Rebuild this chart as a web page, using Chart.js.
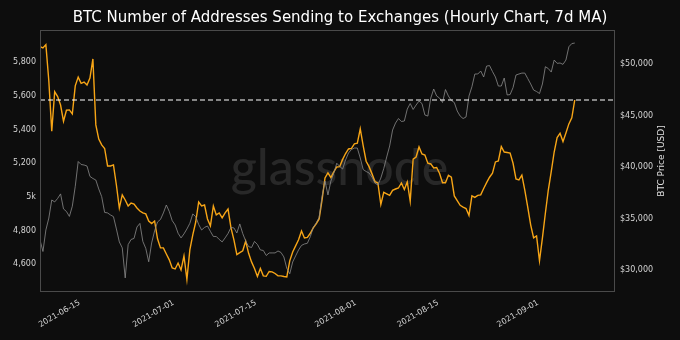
<!DOCTYPE html>
<html><head><meta charset="utf-8">
<script src="https://cdn.jsdelivr.net/npm/chart.js@4/dist/chart.umd.min.js"></script>
<style>html,body{margin:0;padding:0;background:#0d0d0d;overflow:hidden}#wrap{width:680px;height:340px}</style>
</head><body><div id="wrap"><canvas id="c" width="680" height="340"></canvas></div>
<script>
const TITLE = 'BTC Number of Addresses Sending to Exchanges (Hourly Chart, 7d MA)';
const RIGHT_TITLE = 'BTC Price [USD]';
const WATERMARK = 'glassnode';
// time axis: days relative to 2021-06-15, one reading every 12 hours
const START_DAY = -6.75;
const STEP_DAYS = 0.5;
const X_END_DAY = 91.1;

const addresses = [
5893,5885,5905,5690,5390,5625,5596,5546,5450,5515,
5517,5493,5660,5712,5675,5683,5665,5706,5820,5428,
5344,5309,5288,5184,5184,5190,5071,4934,5012,4982,
4946,4964,4958,4934,4916,4905,4899,4857,4842,4857,
4751,4697,4697,4661,4626,4578,4572,4607,4566,4649,
4510,4685,4774,4851,4970,4946,4952,4869,4828,4946,
4893,4905,4875,4905,4928,4816,4745,4657,4669,4680,
4737,4665,4614,4575,4527,4575,4531,4528,4557,4555,
4545,4531,4531,4527,4525,4620,4673,4709,4745,4798,
4756,4760,4784,4816,4840,4869,4982,5113,5143,5115,
5149,5178,5180,5223,5258,5285,5288,5315,5319,5405,
5303,5212,5180,5137,5091,5083,4955,5027,5018,5009,
5039,5047,5053,5083,5044,5089,4975,5225,5237,5297,
5255,5249,5200,5196,5172,5175,5139,5084,5084,5129,
5117,5006,4978,4950,4940,4931,4890,5006,4997,5009,
5012,5050,5085,5117,5141,5208,5214,5299,5267,5264,
5261,5200,5107,5101,5129,5041,4940,4834,4757,4768,
4620,4757,4903,5041,5151,5267,5353,5378,5329,5380,
5434,5470,5576];

const price = [
32922,31800,33894,35050,36810,36620,36960,37400,35940,35690,
35210,36200,38140,40550,40260,40210,40110,39100,38900,38750,
37880,37130,35600,35550,35350,35190,33990,32730,32150,29230,
32470,32970,33070,34180,34530,32780,32100,30800,32630,33800,
34670,34910,35550,36320,35690,34800,34380,33570,33120,33510,
33990,34540,35450,35190,34430,33890,34140,34280,33750,33260,
33260,32970,32730,33120,33550,34140,34090,33600,34480,33550,
32820,32270,32190,32780,32480,31950,31900,31410,31660,31660,
31660,31850,31710,31270,30160,29630,30780,31370,31950,32390,
32530,32600,33240,34140,34580,35110,37180,38650,37300,38650,
39430,40380,40070,39820,40700,41380,41720,41860,41860,40890,
39770,39580,39430,39040,38460,38270,38940,39870,40990,42060,
43610,44290,44730,44440,44490,45650,46190,45610,46040,46430,
46190,45070,44970,46720,47600,46920,46720,46290,47550,46920,
46480,46290,45460,44970,44730,44880,46920,47820,49060,49060,
49350,48770,49830,49880,49300,48770,47890,47890,48670,47020,
47060,47740,48960,49060,49150,49150,48620,48090,47500,47360,
47160,48090,49770,49590,49250,50420,50100,50130,50000,50420,
51710,52020,52070];

const currentLevel = 5576;

const xTickDays = [0, 16, 30, 47, 61, 78];
const xTickLabels = ['2021-06-15','2021-07-01','2021-07-15','2021-08-01','2021-08-15','2021-09-01'];
const leftTicks = [4600, 4800, 5000, 5200, 5400, 5600, 5800];
const leftTickLabels = ['4,600','4,800','5k','5,200','5,400','5,600','5,800'];
const rightTicks = [30000, 35000, 40000, 45000, 50000];
const rightTickLabels = ['$30,000','$35,000','$40,000','$45,000','$50,000'];

const LEFT_MIN = 4435, LEFT_MAX = 5992;
const RIGHT_MIN = 27860, RIGHT_MAX = 53340;

const days = addresses.map((_, i) => START_DAY + i * STEP_DAYS);
const addrPts = addresses.map((v, i) => ({x: days[i], y: v}));
const pricePts = price.map((v, i) => ({x: days[i], y: v}));
const levelPts = [{x: START_DAY, y: currentLevel}, {x: X_END_DAY, y: currentLevel}];

const tickFont = {family: '"DejaVu Sans"', size: 8};
const tickColor = '#d4d4d4';
const noGrid = {display: false, drawTicks: false};

const decor = {
  id: 'decor',
  beforeDraw(chart) {
    const ctx = chart.ctx;
    ctx.save();
    ctx.fillStyle = '#0d0d0d';
    ctx.fillRect(0, 0, chart.width, chart.height);
    ctx.restore();
  },
  beforeDatasetsDraw(chart) {
    const {ctx, chartArea: a} = chart;
    ctx.save();
    ctx.fillStyle = '#282828';
    ctx.font = '500 50px Lato';
    ctx.textAlign = 'center';
    ctx.textBaseline = 'middle';
    ctx.fillText(WATERMARK, (a.left + a.right) / 2 + 12, (a.top + a.bottom) / 2 + 8);
    ctx.restore();
  },
  afterDraw(chart) {
    const {ctx, chartArea: a} = chart;
    ctx.save();
    ctx.strokeStyle = '#4a4a4a';
    ctx.lineWidth = 1;
    ctx.strokeRect(a.left + 0.5, a.top + 0.5, a.right - a.left - 1, a.bottom - a.top - 1);
    ctx.translate(a.right + 47, (a.top + a.bottom) / 2);
    ctx.rotate(-Math.PI / 2);
    ctx.fillStyle = '#e0e0e0';
    ctx.font = '9px "DejaVu Sans"';
    ctx.textAlign = 'center';
    ctx.textBaseline = 'middle';
    ctx.fillText(RIGHT_TITLE, 0, 0);
    ctx.restore();
  }
};

new Chart(document.getElementById('c'), {
  type: 'line',
  data: {
    datasets: [
      {data: levelPts, yAxisID: 'y', borderColor: '#ffffff', borderWidth: 1.2, borderDash: [5, 3], pointRadius: 0, order: 0},
      {data: pricePts, yAxisID: 'y1', borderColor: '#8a8a8a', borderWidth: 0.8, pointRadius: 0, tension: 0, order: 1},
      {data: addrPts, yAxisID: 'y', borderColor: '#f7a516', borderWidth: 1.4, pointRadius: 0, tension: 0, order: 2}
    ]
  },
  options: {
    responsive: false,
    animation: false,
    devicePixelRatio: 1,
    layout: {padding: 0},
    plugins: {
      legend: {display: false},
      tooltip: {enabled: false},
      title: {display: true, text: TITLE, color: '#ffffff', font: {family: '"DejaVu Sans"', size: 15, weight: 'normal'}, padding: {top: 9, bottom: 3}}
    },
    scales: {
      x: {
        type: 'linear', min: START_DAY, max: X_END_DAY,
        grid: noGrid, border: {display: false},
        afterBuildTicks: s => { s.ticks = xTickDays.map(v => ({value: v})); },
        afterFit: s => { s.height = 48; },
        ticks: {autoSkip: false, maxRotation: 30, minRotation: 30, color: tickColor, font: tickFont, padding: 6,
          callback: (v) => xTickLabels[xTickDays.indexOf(v)]}
      },
      y: {
        type: 'linear', position: 'left', min: LEFT_MIN, max: LEFT_MAX,
        grid: noGrid, border: {display: false},
        afterBuildTicks: s => { s.ticks = leftTicks.map(v => ({value: v})); },
        afterFit: s => { s.width = 40; },
        ticks: {color: tickColor, font: tickFont, padding: 4,
          callback: (v) => leftTickLabels[leftTicks.indexOf(v)]}
      },
      y1: {
        type: 'linear', position: 'right', min: RIGHT_MIN, max: RIGHT_MAX,
        grid: noGrid, border: {display: false},
        afterBuildTicks: s => { s.ticks = rightTicks.map(v => ({value: v})); },
        afterFit: s => { s.width = 65; },
        ticks: {color: tickColor, font: tickFont, padding: 5,
          callback: (v) => rightTickLabels[rightTicks.indexOf(v)]}
      }
    }
  },
  plugins: [decor]
});
</script>
</body></html>
